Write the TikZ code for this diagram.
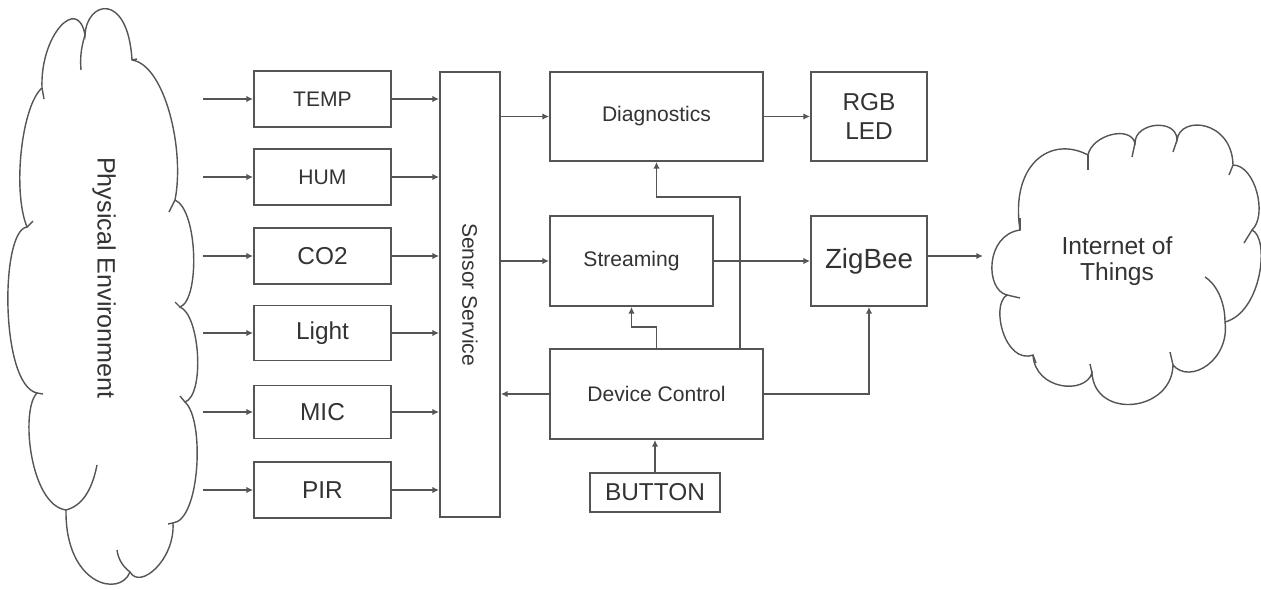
\documentclass[tikz,border=0pt]{standalone}
\usepackage{fontspec}
\setmainfont{Liberation Sans}
\usetikzlibrary{arrows.meta,calc}
\definecolor{ln}{HTML}{555555}
\definecolor{tx}{HTML}{333333}
\tikzset{
  box/.style={draw=ln,line width=1pt,rectangle,inner sep=0pt,text=tx,align=center},
  arr/.style={draw=ln,line width=1pt,-{Latex[length=3.8pt,width=3.6pt]}},
  cloudline/.style={draw=ln,line width=0.8pt},
  fs/.style={font=\fontsize{12}{14}\selectfont},
  fm/.style={font=\fontsize{13.9}{17}\selectfont},
}
\begin{document}
\begin{tikzpicture}[x=0.02cm,y=-0.02cm]
\useasboundingbox (0,0) rectangle (1261,589);
% left cloud
\draw[cloudline] (42,88)
 .. controls (40,35) and (78,-5) .. (85,35)
 .. controls (87,0) and (128,-8) .. (132,60)
 .. controls (165,65) and (185,150) .. (175,200)
 .. controls (198,210) and (200,300) .. (180,307)
 .. controls (200,315) and (205,395) .. (185,402)
 .. controls (205,420) and (200,520) .. (173,523)
 .. controls (175,560) and (140,590) .. (130,572)
 .. controls (120,598) and (65,585) .. (66,510)
 .. controls (30,505) and (20,410) .. (37,393)
 .. controls (0,385) and (0,230) .. (27,227)
 .. controls (12,190) and (22,105) .. (42,88) -- cycle;
\draw[cloudline] (85,35) .. controls (81,48) and (80,58) .. (81,70);
\draw[cloudline] (66,510) .. controls (85,505) and (93,485) .. (97,465);
\draw[cloudline] (130,572) .. controls (122,566) and (118,558) .. (117,550);
\draw[cloudline] (175,200) -- (169,212);
\draw[cloudline] (185,402) -- (180,396);
\draw[cloudline] (180,307) -- (175,302);
\draw[cloudline] (173,523) -- (168,524);
\draw[cloudline] (37,393) -- (43,394);
\draw[cloudline] (27,227) -- (33,221);
\draw[cloudline] (42,88) -- (44,99);
\draw[cloudline] (132,60) -- (137,59);
\node[text=tx,rotate=-90,font=\fontsize{14.3}{16}\selectfont] (phys) at (104,278) {Physical Environment};
% right cloud
\draw[cloudline] (1007,295)
 .. controls (985,290) and (985,235) .. (1020,230)
 .. controls (1010,165) and (1050,135) .. (1088,155)
 .. controls (1092,135) and (1130,125) .. (1135,143)
 .. controls (1135,122) and (1177,118) .. (1177,140)
 .. controls (1180,115) and (1232,120) .. (1233,165)
 .. controls (1255,165) and (1268,215) .. (1252,230)
 .. controls (1270,238) and (1262,312) .. (1225,322)
 .. controls (1230,360) and (1190,385) .. (1173,365)
 .. controls (1172,412) and (1095,420) .. (1092,373)
 .. controls (1085,395) and (1035,390) .. (1033,355)
 .. controls (1005,365) and (990,305) .. (1007,295) -- cycle;
\draw[cloudline] (1225,322) .. controls (1225,300) and (1215,283) .. (1205,277);
\draw[cloudline] (1020,230) -- (1020,218);
\draw[cloudline] (1007,295) -- (1020,298);
\draw[cloudline] (1033,355) -- (1036,363);
\draw[cloudline] (1092,373) -- (1090,364);
\draw[cloudline] (1173,365) -- (1170,352);
\draw[cloudline] (1135,143) -- (1132,157);
\draw[cloudline] (1177,140) -- (1173,152);
\draw[cloudline] (1233,165) -- (1229,175);
\draw[cloudline] (1252,230) -- (1244,243);
\draw[cloudline] (1088,155) -- (1088,170);
\node[text=tx,align=center,font=\fontsize{14}{14.4}\selectfont] (iot) at (1117,261) {Internet of\\Things};
% sensor boxes
\node[box,fs,minimum width=2.74cm,minimum height=1.12cm] (temp) at (322.5,99) {TEMP};
\node[box,fs,minimum width=2.74cm,minimum height=1.12cm] (hum) at (322.5,177) {HUM};
\node[box,fm,minimum width=2.74cm,minimum height=1.12cm] (co2) at (322.5,256) {CO2};
\node[box,fm,minimum width=2.74cm,minimum height=1.1cm] (light) at (322.5,333) {Light};
\node[box,fm,minimum width=2.74cm,minimum height=1.06cm] (mic) at (322.5,412) {MIC};
\node[box,fm,minimum width=2.74cm,minimum height=1.12cm] (pir) at (322.5,490) {PIR};
\node[box,minimum width=1.2cm,minimum height=8.9cm] (ss) at (470,294.5) {};
\node[text=tx,fs,rotate=-90] (sslabel) at (ss.center) {Sensor Service};
\node[box,fs,minimum width=4.26cm,minimum height=1.78cm] (diag) at (656.5,116.5) {Diagnostics};
\node[box,fm,minimum width=2.32cm,minimum height=1.78cm] (rgb) at (869,116.5) {RGB\\LED};
\node[box,fs,minimum width=3.26cm,minimum height=1.8cm] (stream) at (631.5,261) {Streaming};
\node[box,font=\fontsize{15.8}{18}\selectfont,minimum width=2.32cm,minimum height=1.8cm] (zig) at (869,261) {ZigBee};
\node[box,fs,minimum width=4.26cm,minimum height=1.8cm] (dc) at (656.5,394) {Device Control};
\node[box,fm,minimum width=2.6cm,minimum height=0.78cm] (btn) at (655,492.5) {BUTTON};
% input coordinates
\coordinate (i1) at (203,99);
\coordinate (i2) at (203,177);
\coordinate (i3) at (203,256);
\coordinate (i4) at (203,333);
\coordinate (i5) at (203,412);
\coordinate (i6) at (203,490);
\coordinate (iotin) at (983,256);
\foreach \i/\b in {1/temp,2/hum,3/co2,4/light,5/mic,6/pir}{
  \draw[arr] (i\i) -- (\b.west);
  \draw[arr] (\b.east) -- (\b.east -| ss.west);
}
\draw[arr] (ss.east |- diag.west) -- (diag.west);
\draw[arr] (ss.east |- stream.west) -- (stream.west);
\draw[arr] (diag.east) -- (rgb.west);
\draw[arr] (stream.east) -- (zig.west);
\draw[arr] (zig.east |- iotin) -- (iotin);
\draw[arr] (dc.west) -- (dc.west -| ss.east);
\draw[arr] (dc.north) -- ++(0,-21) -| (stream.south);
\draw[arr] ($(dc.north east)+(-24,0)$) -- ++(0,-151) -| (diag.south);
\draw[arr] (dc.east) -| (zig.south);
\draw[arr] (btn.north) -- (btn.north |- dc.south);
\end{tikzpicture}
\end{document}
